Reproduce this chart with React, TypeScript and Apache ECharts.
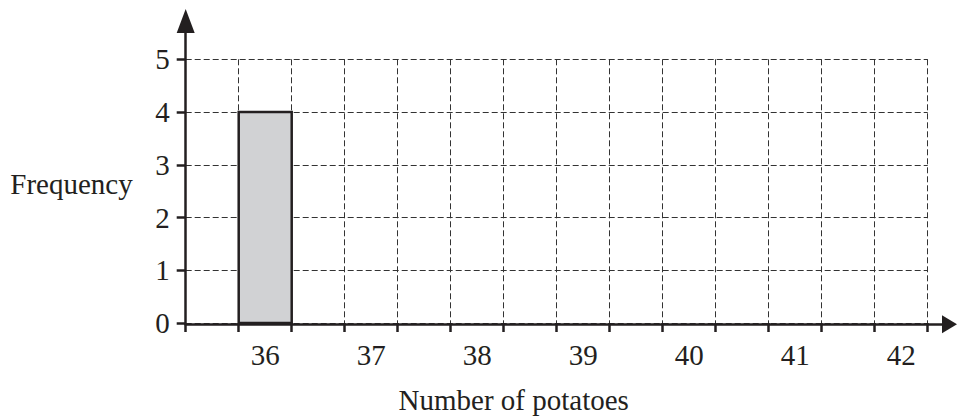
import React, { useEffect, useRef } from "react";
import * as echarts from "echarts";

// Data
const classes: string[] = ["36", "37", "38", "39", "40", "41", "42"];
const frequencies: (number | null)[] = [4, null, null, null, null, null, null];
const yMin = 0;
const yMax = 5;
const yInterval = 1;

const xTitle = "Number of potatoes";
const yTitle = "Frequency";

const FONT = "'Liberation Serif', 'Times New Roman', serif";
const INK = "#231f20";
const FS = 29;

export default function App() {
  const ref = useRef<HTMLDivElement>(null);

  useEffect(() => {
    if (!ref.current) return;
    const chart = echarts.init(ref.current, undefined, { renderer: "svg" });

    // each class is shown with a blank gap cell before it
    const slots: string[] = [];
    const values: (number | null)[] = [];
    classes.forEach((c, i) => {
      slots.push("gap-" + c);
      values.push(null);
      slots.push(c);
      values.push(frequencies[i]);
    });

    const gridL = 185.7;
    const gridR = 29.3;
    const gridT = 59.3;
    const gridB = 94.7;

    const option: echarts.EChartsOption = {
      animation: false,
      backgroundColor: "#ffffff",
      textStyle: { fontFamily: FONT },
      grid: [
        { left: gridL, right: gridR, top: gridT, bottom: gridB, containLabel: false },
        { left: gridL, right: 7.5, top: 21, bottom: gridB, containLabel: false },
      ],
      xAxis: [
        {
          type: "category",
          gridIndex: 0,
          data: slots,
          boundaryGap: true,
          axisLine: { show: false },
          axisTick: {
            show: true,
            interval: 0,
            length: 9,
            inside: false,
            lineStyle: { color: INK, width: 2.5 },
          },
          axisLabel: {
            show: true,
            interval: 0,
            margin: 17,
            fontFamily: FONT,
            fontSize: FS,
            color: INK,
            formatter: (v: string) => (v.startsWith("gap-") ? "" : v),
          },
          splitLine: {
            show: true,
            interval: 0,
            lineStyle: { color: "#333", width: 1, type: [6, 3] },
          },
          name: xTitle,
          nameLocation: "middle",
          nameGap: 62,
          nameTextStyle: {
            fontFamily: FONT,
            fontSize: FS,
            color: INK,
            padding: [0, 86, 0, 0],
          },
        },
        {
          type: "value",
          gridIndex: 1,
          min: 0,
          max: 1,
          axisLine: {
            show: true,
            onZero: false,
            symbol: ["none", "triangle"],
            symbolSize: [18, 15],
            lineStyle: { color: INK, width: 2.5 },
          },
          axisTick: { show: false },
          axisLabel: { show: false },
          splitLine: { show: false },
        },
      ],
      yAxis: [
        {
          type: "value",
          gridIndex: 0,
          min: yMin,
          max: yMax,
          interval: yInterval,
          axisLine: { show: false },
          axisTick: {
            show: true,
            length: 9,
            inside: false,
            lineStyle: { color: INK, width: 2.5 },
          },
          axisLabel: {
            show: true,
            margin: 16,
            fontFamily: FONT,
            fontSize: FS,
            color: INK,
          },
          splitLine: {
            show: true,
            lineStyle: { color: "#333", width: 1, type: [6, 3] },
          },
          name: yTitle,
          nameLocation: "middle",
          nameRotate: 0,
          nameGap: 53,
          nameTextStyle: {
            fontFamily: FONT,
            fontSize: FS,
            color: INK,
            verticalAlign: "bottom",
            lineHeight: 14,
          },
        },
        {
          type: "value",
          gridIndex: 1,
          min: 0,
          max: 1,
          axisLine: {
            show: true,
            onZero: false,
            symbol: ["none", "triangle"],
            symbolSize: [18, 24],
            lineStyle: { color: INK, width: 2.5 },
          },
          axisTick: { show: false },
          axisLabel: { show: false },
          splitLine: { show: false },
        },
      ],
      series: [
        {
          type: "custom",
          xAxisIndex: 0,
          yAxisIndex: 0,
          data: values.map((v, i) => [i, v]),
          encode: { x: 0, y: 1 },
          z: 5,
          renderItem: (params: any, api: any) => {
            const v = api.value(1);
            if (v === null || v === undefined || isNaN(v)) return null;
            const idx = api.value(0);
            const top = api.coord([idx, v]);
            const base = api.coord([idx, 0]);
            const w = api.size([1, 0])[0];
            return {
              type: "rect",
              shape: { x: top[0] - w / 2, y: top[1], width: w, height: base[1] - top[1] },
              style: { fill: "#d1d2d4", stroke: INK, lineWidth: 2.5 },
            };
          },
        },
      ],
    };

    chart.setOption(option);
    return () => chart.dispose();
  }, []);

  return (
    <div
      ref={ref}
      style={{ position: "fixed", left: 0, top: 0, width: 957, height: 419, background: "#fff" }}
    />
  );
}
